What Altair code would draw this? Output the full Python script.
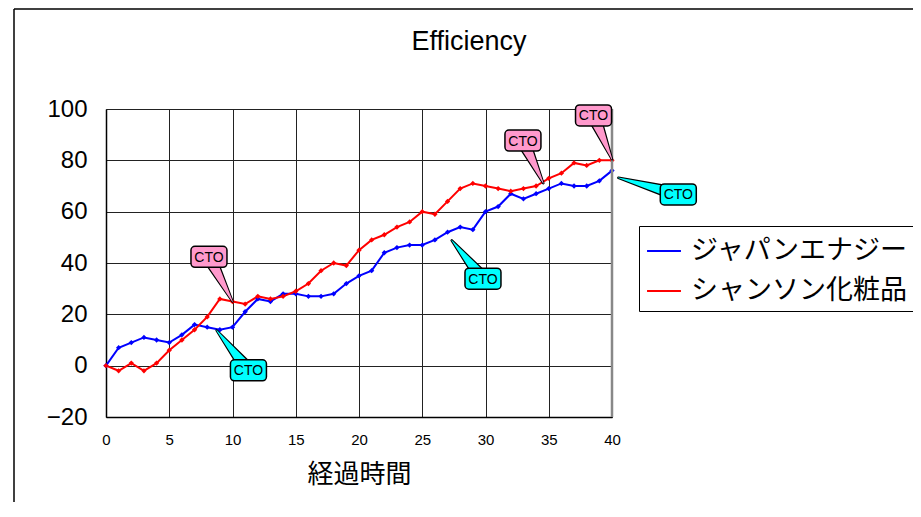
import altair as alt
import pandas as pd

# ---------------- data ----------------
x_vals = list(range(41))
japan_energy = [0, 7, 9, 11, 10, 9, 12, 16, 15, 14, 15, 21, 26, 25, 28, 28, 27, 27, 28, 32,
                35, 37, 44, 46, 47, 47, 49, 52, 54, 53, 60, 62, 67, 65, 67, 69, 71, 70, 70, 72, 76]
chanson = [0, -2, 1, -2, 1, 6, 10, 14, 19, 26, 25, 24, 27, 26, 27, 29, 32, 37, 40, 39,
           45, 49, 51, 54, 56, 60, 59, 64, 69, 71, 70, 69, 68, 69, 70, 73, 75, 79, 78, 80, 80]
series_names = ["ジャパンエナジー", "シャンソン化粧品"]
series_colors = ["#0000FF", "#FF0000"]
chart_title = "Efficiency"

x_ticks = [0, 5, 10, 15, 20, 25, 30, 35, 40]
y_ticks = [-20, 0, 20, 40, 60, 80, 100]

# callouts ("CTO")
callout_text = ["CTO", "CTO", "CTO", "CTO", "CTO", "CTO"]
callout_box_x = [8.14, 32.96, 38.54, 11.26, 29.8, 45.24]
callout_box_y = [42.4, 87.7, 97.5, -1.8, 33.9, 66.7]
callout_tip_x = [10, 34.57, 40, 8.75, 27.33, 40.5]
callout_tip_y = [25, 71.1, 80.4, 13.7, 48.8, 73.2]
callout_fill = ["#FF99CC", "#FF99CC", "#FF99CC", "#00FFFF", "#00FFFF", "#00FFFF"]

FONT = "Liberation Sans, Arial, Noto Sans CJK JP"
JFONT = "Noto Sans CJK JP"

# ---------------- tables ----------------
rows = []
for name, vals in zip(series_names, [japan_energy, chanson]):
    for xv, yv in zip(x_vals, vals):
        rows.append({"x": xv, "y": yv, "series": name})
df = pd.DataFrame(rows)

trail_rows = []
for i in range(len(callout_text)):
    trail_rows.append({"id": i, "step": 0, "x": callout_box_x[i], "y": callout_box_y[i],
                       "w_out": 15, "w_in": 12, "fill": callout_fill[i]})
    trail_rows.append({"id": i, "step": 1, "x": callout_tip_x[i], "y": callout_tip_y[i],
                       "w_out": 2.5, "w_in": 0.6, "fill": callout_fill[i]})
trail_df = pd.DataFrame(trail_rows)

box_df = pd.DataFrame({"x": callout_box_x, "y": callout_box_y,
                       "text": callout_text, "fill": callout_fill})

xs = alt.Scale(domain=[0, 40], nice=False, zero=False)
ys = alt.Scale(domain=[-20, 100], nice=False, zero=False)
color_scale = alt.Scale(domain=series_names, range=series_colors)

base_x = alt.X("x:Q", scale=xs,
               axis=alt.Axis(values=x_ticks, title="経過時間", titleFont=JFONT,
                             titleFontSize=26, titleFontWeight="normal", titleColor="black",
                             labelFont=FONT, labelFontSize=15, labelColor="black",
                             labelPadding=15, titlePadding=14, tickSize=0,
                             grid=True, gridColor="#222222", gridWidth=1,
                             domainColor="black", domainWidth=1.5, labelFlush=False))
base_y = alt.Y("y:Q", scale=ys,
               axis=alt.Axis(values=y_ticks, title=None,
                             labelFont=FONT, labelFontSize=24, labelColor="black",
                             labelPadding=19, tickSize=0,
                             grid=True, gridColor="#222222", gridWidth=1,
                             domainColor="black", domainWidth=1.5))

lines = alt.Chart(df).mark_line(strokeWidth=2).encode(
    x=base_x, y=base_y,
    color=alt.Color("series:N", scale=color_scale, sort=series_names,
                    legend=alt.Legend(title=None, orient="none", legendX=533, legendY=117,
                                      labelFont=JFONT, labelFontSize=27, labelColor="black",
                                      symbolType="stroke", symbolSize=1150,
                                      symbolStrokeWidth=2, labelOffset=9,
                                      rowPadding=9, padding=7,
                                      strokeColor="black", fillColor="white",
                                      labelLimit=400)),
)
points = alt.Chart(df).mark_point(filled=True, shape="diamond", size=28, opacity=1).encode(
    x="x:Q", y="y:Q",
    color=alt.Color("series:N", scale=color_scale, legend=None),
)

right_edge = alt.Chart(pd.DataFrame({"x": [40]})).mark_rule(color="#888888", strokeWidth=2.5).encode(
    x="x:Q", y=alt.value(0), y2=alt.value(308)
)

trail_out = alt.Chart(trail_df).mark_trail(color="black").encode(
    x="x:Q", y="y:Q", detail="id:N", order="step:Q",
    size=alt.Size("w_out:Q", scale=None, legend=None),
)
trail_in = alt.Chart(trail_df).mark_trail().encode(
    x="x:Q", y="y:Q", detail="id:N", order="step:Q",
    size=alt.Size("w_in:Q", scale=None, legend=None),
    color=alt.Color("fill:N", scale=None),
)
boxes = alt.Chart(box_df).mark_rect(
    xOffset=-18, x2Offset=18, yOffset=-10.5, y2Offset=10.5,
    cornerRadius=4, stroke="black", strokeWidth=1.5
).encode(
    x="x:Q", x2="x:Q", y="y:Q", y2="y:Q",
    fill=alt.Fill("fill:N", scale=None),
)
labels = alt.Chart(box_df).mark_text(font=FONT, fontSize=14, color="black", baseline="middle",
                                     dy=1).encode(
    x="x:Q", y="y:Q", text="text:N"
)

frame_left = alt.Chart(pd.DataFrame({"a": [0]})).mark_rule(color="black", strokeWidth=1.5).encode(
    x=alt.value(-92), y=alt.value(-100), y2=alt.value(420)
)
frame_top = alt.Chart(pd.DataFrame({"a": [0]})).mark_rule(color="black", strokeWidth=1.5).encode(
    x=alt.value(-92), x2=alt.value(820), y=alt.value(-100)
)
title_mark = alt.Chart(pd.DataFrame({"t": [chart_title]})).mark_text(
    font=FONT, fontSize=27, color="black", align="center", baseline="middle"
).encode(x=alt.value(363), y=alt.value(-67), text="t:N")

chart = alt.layer(
    lines, points, right_edge, trail_out, trail_in, boxes, labels,
    frame_left, frame_top, title_mark
).properties(
    width=506, height=308,
    autosize=alt.AutoSizeParams(type="none"),
    padding={"left": 98, "top": 101, "right": 301, "bottom": 85},
).configure_view(stroke=None).configure(background="white")

chart.save("out.html", embed_options={"renderer": "svg", "actions": False})
